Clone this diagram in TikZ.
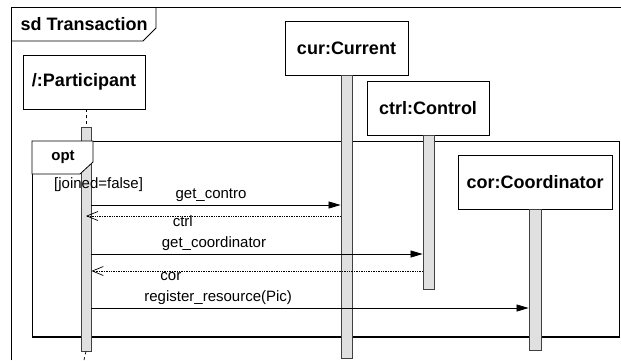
\documentclass[tikz,border=0pt]{standalone}
\usepackage{fontspec}
\setmainfont{Liberation Sans}
\usetikzlibrary{arrows.meta}
\tikzset {>=Stealth}
\tikzset{
  head/.style={draw, fill=white, line width=0.8pt, inner sep=0pt, minimum height=54pt,
    font=\bfseries\fontsize{18}{20}\selectfont},
  bar/.style={draw=black!75, fill=black!12, line width=0.8pt, inner sep=0pt, minimum width=11pt},
  call/.style={line width=0.7pt, -{Triangle[length=12pt,width=7pt]}},
  reply/.style={line width=0.7pt, densely dotted, -{Straight Barb[length=11pt,width=9pt]}},
  lbl/.style={font=\fontsize{15}{17}\selectfont},
}

\begin{document}
\begin{tikzpicture}[x=1pt,y=-1pt]
\useasboundingbox (0,0) rectangle (621,360);

% Outer frame and its tab
\draw [line width=0.8pt] (11,360) |- (621,7);
\draw [line width=0.8pt] (11,41) -- (143,41) -- (156,28) -- (156,7);
\node[anchor=west, font=\bfseries\fontsize{18}{20}\selectfont] (title) at (17,24) {sd Transaction};

% Opt fragment
\draw [line width=0.8pt] (32,141) rectangle (619,337);
\draw [line width=2pt] (32,337) -- (619,337);

% Lifeline heads
\node[head, minimum width=122pt] (part) at (84,82) {/:Participant};
\node[head, minimum width=123pt] (cur) at (346.5,48) {cur:Current};
\node[head, minimum width=122pt] (ctrl) at (428,108) {ctrl:Control};
\node[head, minimum width=154pt] (cor) at (535,182) {cor:Coordinator};

% Activation bars
\node[bar, minimum width=10pt, minimum height=224pt] (pbar) at (86,239) {};
\node[bar, minimum height=283pt] (curbar) at (346.5,216.5) {};
\node[bar, minimum height=154pt] (ctrlbar) at (428.5,212) {};
\node[bar, minimum width=12pt, minimum height=141pt] (corbar) at (535,279.5) {};
\coordinate (pend) at (84,360);
\draw [dashed, line width=0.7pt] (part.south -| pbar.north) -- (pbar.north);
\draw [dashed, line width=0.7pt] (pbar.south) -- (pend);

% Opt tab and guard, over the bar
\draw [line width=0.8pt, fill=white] (32,141) -- (93,141) -- (93,162) -- (80,174) -- (32,174) -- cycle;
\node[font=\bfseries\fontsize{15}{17}\selectfont] (opt) at (63,157) {opt};
\node[lbl, anchor=west, inner sep=0pt] (guard) at (54,185) {[joined=false]};

% Messages
\draw [call] (pbar.east |- 0,205) -- node[lbl, pos=.48, above] {get\_contro} (curbar.west |- 0,205);
\draw [reply] (curbar.west |- 0,216) -- node[lbl, pos=.62, anchor=base, yshift=-10pt] {ctrl} (pbar.center |- 0,216);
\draw [call] (pbar.east |- 0,254) -- node[lbl, pos=.37, above] {get\_coordinator} (ctrlbar.west |- 0,254);
\draw [reply] (ctrlbar.west |- 0,271) -- node[lbl, pos=.76, anchor=base, yshift=-9pt] {cor} (pbar.east |- 0,271);
\draw [call] (pbar.east |- 0,308) -- node[lbl, pos=.29, above] {register\_resource(Pic)} (corbar.west |- 0,308);

\end{tikzpicture}
\end{document}
